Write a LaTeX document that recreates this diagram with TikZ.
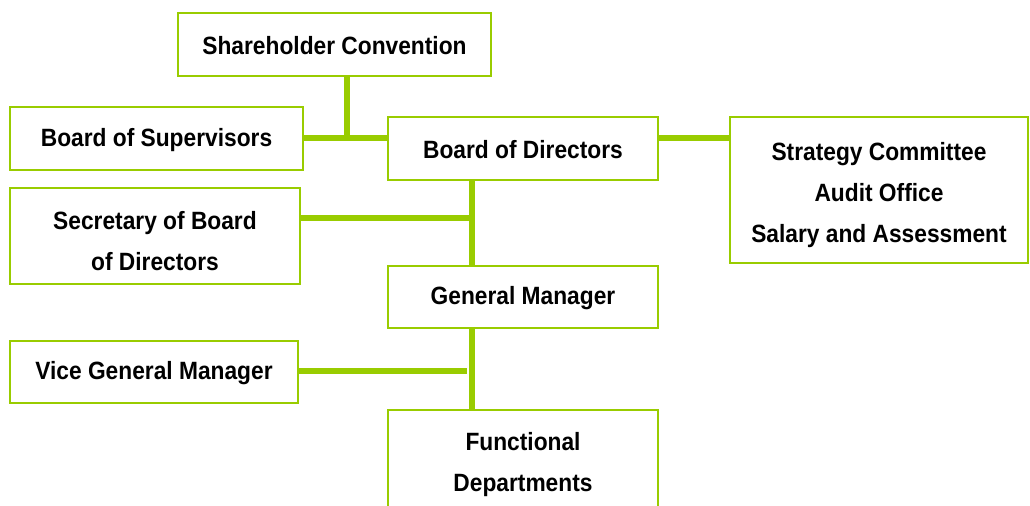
\documentclass[tikz,border=0pt]{standalone}
\usepackage{fontspec}
\setmainfont{Liberation Sans}[FakeStretch=0.91]
\definecolor{leaf}{HTML}{99CC00}
\newcommand\lift{\rule{0pt}{21pt}}
\begin{document}
\begin{tikzpicture}[x=0.75pt,y=-0.75pt,
  unit/.style={draw=leaf,line width=1.5pt,align=center,inner sep=0pt,drop=15.5pt,
    font=\bfseries\fontsize{18.75}{30.75}\selectfont},
  drop/.style={execute at begin node={\rule{0pt}{#1}}},
  size/.style 2 args={minimum width=#1*0.75pt,minimum height=#2*0.75pt},
  link/.style={leaf,line width=4.2pt}]
\useasboundingbox (0,0) rectangle (1030,506);
\node[unit,size={313}{63}] (share) at (334.5,44.5) {Shareholder Convention};
\node[unit,size={293}{63}] (superv) at (156.5,138.5) {Board of Supervisors};
\node[unit,size={270}{63}] (bod) at (523,148.5) {Board of Directors};
\node[unit,size={298}{146}] (strat) at (879,190) {\lift Strategy Committee\\Audit Office\\Salary and Assessment};
\node[unit,size={290}{96}] (secr) at (155,236) {\lift Secretary of Board\\of Directors};
\node[unit,size={270}{62}] (gm) at (523,297) {General Manager};
\node[unit,size={288}{62}] (vice) at (154,372) {Vice General Manager};
\node[unit,size={270}{100}] (func) at (523,460) {\lift Functional\\Departments};
\coordinate (j1) at (347,138);
\coordinate (j2) at (472,218);
\coordinate (j3) at (467,371);
\draw[link] (share.south -| j1) -- (j1);
\draw[link] (superv.east |- j1) -- (bod.west |- j1);
\draw[link] (bod.east |- j1) -- (strat.west |- j1);
\draw[link] (bod.south -| j2) -- (gm.north -| j2);
\draw[link] (secr.east |- j2) -- (j2);
\draw[link] (gm.south -| j2) -- (func.north -| j2);
\draw[link] (vice.east |- j3) -- (j3);
\end{tikzpicture}
\end{document}
